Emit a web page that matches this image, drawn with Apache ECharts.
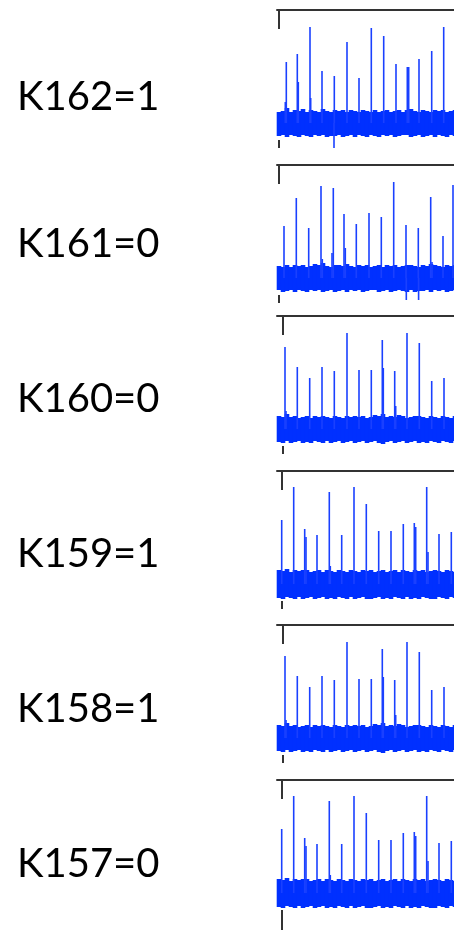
<!DOCTYPE html>
<html>
<head>
<meta charset="utf-8">
<title>K157–K162 traces</title>
<script src="https://cdn.jsdelivr.net/npm/echarts@6/dist/echarts.min.js"></script>
<style>
  html, body { margin: 0; padding: 0; background: #ffffff; }
  #chart { width: 454px; height: 930px; }
</style>
</head>
<body>
<div id="chart"></div>
<script>
// Panel captions, top to bottom
const labels = ['K162=1', 'K161=0', 'K160=0', 'K159=1', 'K158=1', 'K157=0'];

// Sample axis (trace length), first envelope sample and spacing of the envelope samples
const sampleMax = 1770;
const envStart = 20;
const envStep = 40;

// Trace A (K162): spike positions / amplitudes (negative = downward glitch) and noise envelope
const spikeXA = [83, 93, 203, 213, 330, 337, 450, 570, 573, 700, 820, 943, 1067, 1190, 1303, 1317, 1420, 1547, 1667];
const spikeVA = [21, 61, 69, 41, 96, 25, 52, -25, 47, 81, 45, 95, 87, 59, 56, 56, 64, 72, 96];
const upperA = [11, 12, 15, 11, 13, 12, 14, 11, 13, 12, 11, 14, 12, 11, 13, 12, 13, 11, 13, 12, 11, 13, 12, 11, 13, 11, 12, 13, 11, 12, 13, 11, 13, 14, 12, 11, 13, 12, 11, 13, 12, 13, 11, 12, 13];
const lowerA = [-13, -12, -14, -12, -13, -14, -12, -13, -14, -12, -13, -12, -14, -13, -13, -12, -14, -13, -12, -14, -12, -13, -14, -12, -13, -14, -12, -13, -12, -14, -13, -12, -12, -14, -13, -12, -14, -13, -12, -14, -12, -13, -14, -12, -13];

// Trace B (K161)
const spikeXB = [70, 193, 317, 440, 453, 550, 563, 670, 683, 793, 920, 1043, 1167, 1290, 1293, 1413, 1416, 1537, 1550, 1660, 1760];
const spikeVB = [52, 80, 50, 92, 19, 25, 90, 64, 30, 54, 65, 61, 96, 53, -22, 50, -22, 81, 16, 42, 93];
const upperB = [12, 11, 13, 11, 13, 12, 13, 11, 12, 14, 13, 15, 12, 11, 13, 13, 12, 14, 12, 11, 13, 12, 13, 11, 12, 13, 11, 13, 12, 13, 11, 12, 13, 13, 12, 11, 13, 12, 14, 13, 12, 11, 13, 12, 13];
const lowerB = [-12, -14, -13, -12, -14, -12, -13, -14, -12, -13, -12, -14, -13, -12, -14, -13, -12, -14, -12, -13, -12, -14, -13, -12, -12, -14, -13, -12, -14, -13, -12, -13, -14, -12, -14, -13, -13, -12, -14, -12, -13, -12, -14, -13, -12];

// Trace C (K160, K158)
const spikeXC = [80, 90, 203, 327, 450, 573, 700, 820, 943, 1053, 1063, 1177, 1187, 1300, 1423, 1547, 1670];
const spikeVC = [82, 18, 62, 51, 62, 58, 96, 59, 59, 89, 61, 58, 23, 96, 86, 48, 51];
const upperC = [13, 12, 15, 12, 13, 11, 12, 13, 11, 13, 12, 13, 12, 11, 13, 12, 11, 13, 12, 13, 12, 13, 11, 12, 14, 13, 15, 12, 13, 12, 14, 13, 11, 12, 13, 13, 12, 11, 13, 12, 11, 13, 12, 11, 13];
const lowerC = [-13, -14, -12, -14, -13, -12, -14, -13, -14, -12, -13, -14, -12, -14, -13, -12, -14, -13, -12, -14, -13, -12, -14, -13, -12, -14, -15, -13, -12, -14, -13, -12, -14, -13, -12, -14, -13, -14, -12, -13, -14, -12, -13, -14, -12];

// Trace D (K159, K157)
const spikeXD = [47, 167, 277, 290, 400, 523, 533, 647, 770, 893, 1017, 1140, 1263, 1373, 1387, 1497, 1510, 1620, 1743];
const spikeVD = [64, 97, 55, 47, 49, 92, 18, 49, 97, 80, 53, 53, 60, 61, 57, 97, 32, 50, 52];
const upperD = [14, 13, 15, 12, 14, 13, 14, 14, 12, 13, 14, 12, 14, 13, 12, 14, 13, 12, 14, 13, 12, 14, 13, 14, 12, 13, 14, 12, 13, 14, 12, 14, 13, 12, 14, 13, 14, 12, 13, 14, 13, 12, 14, 13, 12];
const lowerD = [-14, -15, -13, -14, -15, -13, -15, -14, -13, -15, -14, -13, -15, -14, -15, -13, -14, -15, -13, -15, -14, -13, -15, -15, -14, -13, -15, -14, -15, -13, -14, -15, -13, -15, -14, -15, -13, -14, -15, -15, -13, -14, -15, -13, -14];

// Which trace each panel shows, and where its marker tick sits on the sample axis
const traceA = { sx: spikeXA, sv: spikeVA, up: upperA, lo: lowerA };
const traceB = { sx: spikeXB, sv: spikeVB, up: upperB, lo: lowerB };
const traceC = { sx: spikeXC, sv: spikeVC, up: upperC, lo: lowerC };
const traceD = { sx: spikeXD, sv: spikeVD, up: upperD, lo: lowerD };
const panelTrace = [traceA, traceB, traceC, traceD, traceC, traceD];
const markerAt = [20, 20, 60, 50, 60, 50];

// ---- layout ----
const panelTop = [10, 165, 316, 471, 625, 780];
const labelMid = [97, 244, 399, 554, 709, 864];
const panelHeight = 138;
const blue = '#0030ff';
const frame = '#333333';

const grid = [], xAxis = [], yAxis = [], series = [], graphic = [];

panelTrace.forEach((tr, i) => {
  grid.push({ left: 277, right: 0, top: panelTop[i], height: panelHeight, containLabel: false });

  // top frame line with a short marker tick
  xAxis.push({
    gridIndex: i, type: 'value', position: 'top', min: 0, max: sampleMax,
    axisLine: { show: true, onZero: false, lineStyle: { color: frame, width: 2 } },
    axisTick: { show: true, inside: true, length: 19, customValues: [markerAt[i]], lineStyle: { color: frame, width: 2 } },
    axisLabel: { show: false }, splitLine: { show: false }
  });
  // bottom marker tick (no line)
  const last = i === panelTrace.length - 1;
  xAxis.push({
    gridIndex: i, type: 'value', position: 'bottom', min: 0, max: sampleMax,
    offset: last ? 12 : 0,
    axisLine: { show: false, onZero: false },
    axisTick: { show: true, inside: true, length: last ? 20 : 8, customValues: [markerAt[i]], lineStyle: { color: frame, width: 2 } },
    axisLabel: { show: false }, splitLine: { show: false }
  });
  yAxis.push({
    gridIndex: i, type: 'value', min: -25, max: 113, show: false
  });

  const env = (arr) => arr.map((v, k) => [envStart + k * envStep, v]);
  const common = {
    type: 'bar', yAxisIndex: i, silent: true, animation: false,
    itemStyle: { color: blue }, clip: true
  };
  // noise band: upper and lower envelopes drawn from the baseline
  series.push(Object.assign({}, common, {
    xAxisIndex: 2 * i, data: env(tr.up), barWidth: 4.6, barGap: '-100%'
  }));
  series.push(Object.assign({}, common, {
    xAxisIndex: 2 * i, data: env(tr.lo), barWidth: 4.6, barGap: '-100%'
  }));
  // spikes
  series.push(Object.assign({}, common, {
    xAxisIndex: 2 * i + 1, data: tr.sx.map((x, k) => [x, tr.sv[k]]), barWidth: 1.6,
    itemStyle: { color: '#1a40ff' }
  }));

  graphic.push({
    type: 'text', x: 17, y: labelMid[i], silent: true,
    style: { text: labels[i], fill: '#000000', font: '40px Lato', verticalAlign: 'middle', align: 'left' }
  });
});

const chart = echarts.init(document.getElementById('chart'), null, { renderer: 'canvas' });
chart.setOption({
  animation: false,
  backgroundColor: '#ffffff',
  grid, xAxis, yAxis, series, graphic
});
</script>
</body>
</html>
